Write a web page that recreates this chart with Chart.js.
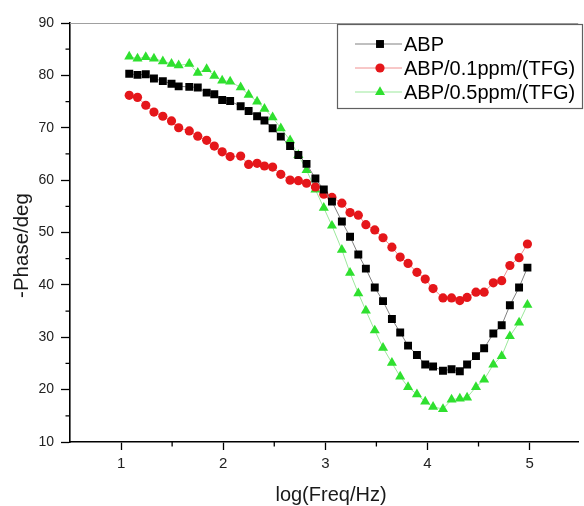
<!DOCTYPE html>
<html>
<head>
<meta charset="utf-8">
<script src="https://cdn.jsdelivr.net/npm/chart.js@4/dist/chart.umd.min.js"></script>
<style>
html,body{margin:0;padding:0;background:#fff;}
canvas{display:block;}
</style>
</head>
<body>
<canvas id="c" width="584" height="506"></canvas>
<script>
// log(Freq/Hz) values shared by all series
const logFreq = [1.080,1.161,1.242,1.322,1.409,1.494,1.564,1.668,1.751,1.838,1.913,1.990,2.068,2.171,2.249,2.332,2.404,2.484,2.564,2.655,2.736,2.816,2.903,2.985,3.065,3.162,3.242,3.323,3.397,3.484,3.565,3.652,3.733,3.810,3.897,3.978,4.055,4.152,4.236,4.317,4.388,4.475,4.555,4.645,4.727,4.807,4.897,4.979];
// -Phase/deg
const abp = [80.3,80.1,80.2,79.4,78.9,78.4,77.9,77.8,77.7,76.7,76.4,75.3,75.1,74.1,73.2,72.2,71.4,69.9,68.3,66.5,64.8,63.1,60.3,58.2,55.9,52.1,49.2,45.8,43.1,39.5,36.9,33.5,30.9,28.4,26.6,24.8,24.4,23.6,23.9,23.5,24.8,26.4,27.9,30.7,32.3,36.1,39.5,43.3];
const tfg01 = [76.2,75.8,74.3,73.0,72.2,71.3,70.0,69.4,68.4,67.6,66.5,65.4,64.5,64.6,63.0,63.2,62.7,62.5,61.1,60.0,59.9,59.4,58.7,57.3,56.7,55.6,53.8,53.3,51.5,50.5,49.0,47.2,45.3,44.1,42.4,41.1,39.3,37.5,37.5,37.0,37.6,38.6,38.6,40.4,40.8,43.7,45.2,47.8];
const tfg05 = [83.6,83.2,83.5,83.2,82.7,82.2,81.9,82.2,80.5,81.2,79.9,79.0,78.8,77.7,76.3,75.0,73.6,72.0,69.9,67.6,64.8,61.9,58.2,54.7,51.3,46.7,42.3,38.4,35.1,31.3,28.0,25.1,22.5,20.5,19.1,17.7,16.7,16.3,18.1,18.3,18.5,20.5,21.9,24.8,26.4,30.2,32.8,36.2];
const seriesNames = ['ABP','ABP/0.1ppm/(TFG)','ABP/0.5ppm/(TFG)'];
const xTicks = [1,2,3,4,5];
const xMinorTicks = [1.5,2.5,3.5,4.5];
const yTicks = [10,20,30,40,50,60,70,80,90];
const yMinorTicks = [15,25,35,45,55,65,75,85];
const xTitle = 'log(Freq/Hz)';
const yTitle = '-Phase/deg';

const FONT = '"Liberation Sans", Arial, sans-serif';
const styles = [
  {marker:'#000000', line:'#808080', shape:'rect', r:5.6},
  {marker:'#e5161a', line:'#f09090', shape:'circle', r:4.6},
  {marker:'#2fe02f', line:'#9be89b', shape:'triangle', r:5.8}
];
const seriesVals = [abp, tfg01, tfg05];

function toXY(vals){ return vals.map((v,i)=>({x:logFreq[i], y:v})); }

function drawShape(ctx, shape, x, y, r, color){
  ctx.fillStyle = color;
  ctx.beginPath();
  if (shape === 'rect'){
    const s = Math.SQRT1_2 * r;
    ctx.rect(x - s, y - s, 2*s, 2*s);
  } else if (shape === 'circle'){
    ctx.arc(x, y, r, 0, Math.PI*2);
  } else {
    for (let k=0;k<3;k++){
      const ang = k*2*Math.PI/3;
      const px = x + Math.sin(ang)*r, py = y - Math.cos(ang)*r;
      if (k===0) ctx.moveTo(px,py); else ctx.lineTo(px,py);
    }
    ctx.closePath();
  }
  ctx.fill();
}

const deco = {
  id: 'deco',
  afterDraw(chart){
    const {ctx, chartArea:a, scales:{x, y}} = chart;
    ctx.save();
    // top frame line
    ctx.strokeStyle = '#a0a0a0'; ctx.lineWidth = 1;
    ctx.beginPath(); ctx.moveTo(a.left, a.top + 0.5); ctx.lineTo(a.right, a.top + 0.5); ctx.stroke();
    // minor ticks
    ctx.strokeStyle = '#000'; ctx.lineWidth = 1.3;
    ctx.beginPath();
    xMinorTicks.forEach(v => { const p = x.getPixelForValue(v); ctx.moveTo(p, a.bottom); ctx.lineTo(p, a.bottom + 4.5); });
    yMinorTicks.forEach(v => { const p = y.getPixelForValue(v); ctx.moveTo(a.left, p); ctx.lineTo(a.left - 4.5, p); });
    ctx.stroke();
    // axis titles
    ctx.fillStyle = '#1a1a1a';
    ctx.font = '20px ' + FONT;
    ctx.textAlign = 'center'; ctx.textBaseline = 'middle';
    ctx.fillText(xTitle, 331, 495);
    ctx.save();
    ctx.translate(22.5, 245.5);
    ctx.rotate(-Math.PI/2);
    ctx.font = '20.5px ' + FONT;
    ctx.fillText(yTitle, 0, 0);
    ctx.restore();
    // legend
    const bx = 337, by = 24, bw = 245, bh = 84;
    ctx.fillStyle = '#fff';
    ctx.fillRect(bx, by, bw, bh);
    ctx.strokeStyle = '#606060'; ctx.lineWidth = 1.2;
    ctx.strokeRect(bx + 0.5, by + 0.5, bw, bh);
    const rows = [44, 68, 92];
    seriesNames.forEach((name, i) => {
      const st = styles[i], ry = rows[i];
      ctx.strokeStyle = st.line; ctx.lineWidth = 1;
      ctx.beginPath(); ctx.moveTo(355, ry); ctx.lineTo(402, ry); ctx.stroke();
      drawShape(ctx, st.shape, 380, ry, st.r, st.marker);
      ctx.fillStyle = '#000';
      ctx.font = '20px ' + FONT;
      ctx.textAlign = 'left'; ctx.textBaseline = 'middle';
      ctx.fillText(name, 404, ry + 1);
    });
    ctx.restore();
  }
};

new Chart(document.getElementById('c'), {
  type: 'scatter',
  data: {
    datasets: seriesNames.map((name, i) => ({
      label: name,
      data: toXY(seriesVals[i]),
      showLine: true,
      borderColor: styles[i].line,
      borderWidth: 1,
      backgroundColor: styles[i].marker,
      pointBackgroundColor: styles[i].marker,
      pointBorderColor: styles[i].marker,
      pointBorderWidth: 0,
      pointStyle: styles[i].shape,
      pointRadius: styles[i].r,
      tension: 0
    }))
  },
  options: {
    responsive: false,
    animation: false,
    devicePixelRatio: 1,
    layout: { padding: { top: 23, right: 0, bottom: 0, left: 0 } },
    plugins: { legend: { display: false }, tooltip: { enabled: false } },
    scales: {
      x: {
        type: 'linear', min: 0.5, max: 5.476,
        afterBuildTicks: s => { s.ticks = xTicks.map(v => ({value: v})); },
        afterFit: s => { s.height = 64; },
        grid: { display: true, drawOnChartArea: false, drawTicks: true, tickLength: 8, tickColor: '#000', tickWidth: 1.3 },
        border: { display: true, color: '#000', width: 1.6 },
        ticks: { color: '#222', font: { size: 15, family: FONT }, padding: 5, maxRotation: 0 }
      },
      y: {
        type: 'linear', min: 10, max: 90,
        afterBuildTicks: s => { s.ticks = yTicks.map(v => ({value: v})); },
        afterFit: s => { s.width = 70; },
        grid: { display: true, drawOnChartArea: false, drawTicks: true, tickLength: 9, tickColor: '#000', tickWidth: 1.3 },
        border: { display: true, color: '#000', width: 1.6 },
        ticks: { color: '#222', font: { size: 14, family: FONT }, padding: 7 }
      }
    }
  },
  plugins: [deco]
});
</script>
</body>
</html>
